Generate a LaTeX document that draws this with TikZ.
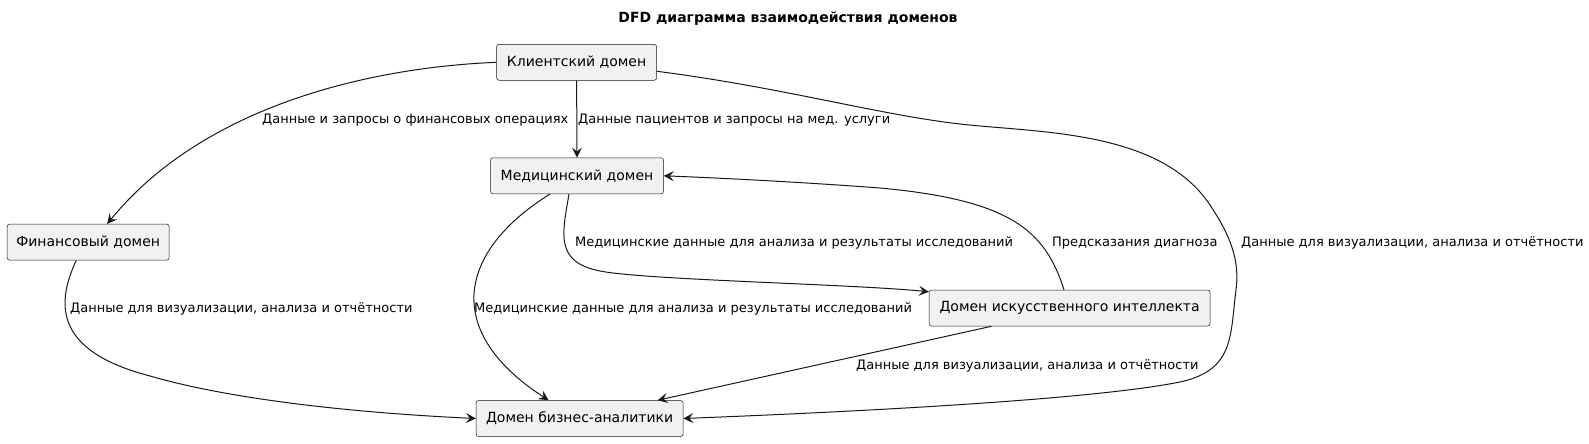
\documentclass[tikz,border=0pt]{standalone}
\usepackage{fontspec}
\setmainfont{DejaVu Sans}
\usetikzlibrary{arrows.meta}
\definecolor{boxfill}{HTML}{F1F1F1}
\definecolor{boxline}{HTML}{181818}
\begin{document}
\begin{tikzpicture}[x=1pt,y=-1pt,
  dombox/.style={draw=boxline,fill=boxfill,rounded corners=2.5pt,line width=0.5pt,
    minimum height=36pt,inner xsep=6pt,font=\fontsize{14}{16}\selectfont},
  flow/.style={draw=boxline,line width=1pt,-{Stealth[length=10pt,width=10pt,inset=4pt]}},
  lbl/.style={anchor=west,inner sep=0pt,font=\fontsize{13}{15}\selectfont}]
\useasboundingbox (0,0) rectangle (1589,444);
\node[font=\bfseries\fontsize{14}{16}\selectfont] (title) at (788,19) {DFD диаграмма взаимодействия доменов};
\node[dombox,minimum width=160pt] (cli) at (576.6,62.3) {Клиентский домен};
\node[dombox,minimum width=173pt] (med) at (577,175.8) {Медицинский домен};
\node[dombox,minimum width=162pt] (fin) at (88.2,242.2) {Финансовый домен};
\node[dombox,minimum width=281pt] (ai) at (1069.6,308) {Домен искусственного интеллекта};
\node[dombox,minimum width=207pt] (bi) at (579.6,418.5) {Домен бизнес-аналитики};
% edges
\draw[flow] (cli.west) .. controls (360,68) and (200,110) .. ([xshift=19pt]fin.north);
\draw[flow] (cli.south) -- (med.north);
\draw[flow] ([yshift=-9pt]cli.east) .. controls (780,87) and (880,115) .. (960,124)
  .. controls (1040,133) and (1160,130) .. (1210,205)
  .. controls (1230,235) and (1240,260) .. (1236,290)
  .. controls (1230,335) and (1235,370) .. (1180,382)
  .. controls (1100,398) and (900,410) .. (bi.east);
\draw[flow] ([xshift=-27pt]med.south) .. controls (460,250) and (440,330) .. ([xshift=-31pt]bi.north);
\draw[flow] ([xshift=-8pt]med.south) .. controls (562,235) and (555,262) .. (600,271)
  .. controls (645,280) and (850,284) .. ([yshift=-2pt]ai.north west);
\draw[flow] ([xshift=-5.6pt]ai.north) .. controls (1045,230) and (1010,200) .. (880,188)
  .. controls (800,182) and (720,178) .. (med.east);
\draw[flow] ([xshift=-78pt]ai.south) -- ([xshift=78pt]bi.north);
\draw[flow] ([xshift=-12pt]fin.south) .. controls (58,300) and (50,350) .. (150,376)
  .. controls (250,405) and (400,415) .. (bi.west);
% labels
\node[lbl] (l1) at (262,120) {Данные и запросы о финансовых операциях};
\node[lbl] (l2) at (578,120) {Данные пациентов и запросы на мед. услуги};
\node[lbl] (l3) at (1241,243) {Данные для визуализации, анализа и отчётности};
\node[lbl] (l4) at (474,309) {Медицинские данные для анализа и результаты исследований};
\node[lbl] (l5) at (575,243) {Медицинские данные для анализа и результаты исследований};
\node[lbl] (l6) at (1052,243) {Предсказания диагноза};
\node[lbl] (l7) at (856,366) {Данные для визуализации, анализа и отчётности};
\node[lbl] (l8) at (70,309) {Данные для визуализации, анализа и отчётности};
\end{tikzpicture}
\end{document}
